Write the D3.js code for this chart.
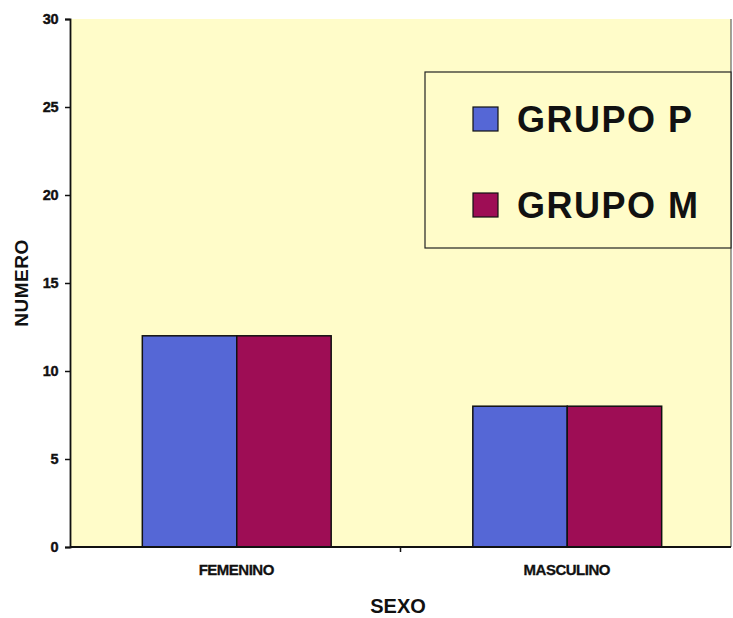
<!DOCTYPE html>
<html>
<head>
    <title>Sexo por grupo</title>
    <script src="https://d3js.org/d3.v7.min.js"></script>
    <style>
      body { margin: 0; background: #fff; }
    </style>
</head>
<body>
    <div id="chart"></div>
    <script>

const categories = ["FEMENINO", "MASCULINO"];
const groups = ["GRUPO P", "GRUPO M"];
const grupoP = [12, 8];
const grupoM = [12, 8];
const yTicks = [0, 5, 10, 15, 20, 25, 30];

const colors = ["#5567d6", "#9e0d55"];
const series = [grupoP, grupoM];

const width = 733, height = 618;
const margin = {top: 19, right: 2, bottom: 71, left: 70};
const font = "'Liberation Sans', Arial, sans-serif";

const svg = d3.create("svg")
    .attr("width", width)
    .attr("height", height)
    .attr("viewBox", [0, 0, width, height])
    .attr("style", `font-family: ${font}; font-weight: bold;`);

const x0 = d3.scaleBand()
    .domain(categories)
    .range([margin.left, width - margin.right])
    .paddingInner(0)
    .paddingOuter(0);

const x1 = d3.scaleBand()
    .domain(groups)
    .range([0, x0.bandwidth()])
    .paddingInner(0)
    .paddingOuter(0.75);

const y = d3.scaleLinear()
    .domain([0, 30])
    .range([height - margin.bottom, margin.top]);

// plot area
svg.append("rect")
    .attr("x", margin.left)
    .attr("y", margin.top)
    .attr("width", width - margin.right - margin.left)
    .attr("height", y(0) - margin.top)
    .attr("fill", "#fffcc9");

svg.append("line")
    .attr("x1", width - margin.right).attr("x2", width - margin.right)
    .attr("y1", margin.top).attr("y2", y(0))
    .attr("stroke", "#444").attr("stroke-width", 1);

// bars
const rows = categories.map((c, i) => ({cat: c, vals: groups.map((g, j) => ({g, j, v: series[j][i]}))}));

svg.append("g")
  .selectAll("g")
  .data(rows)
  .join("g")
    .attr("transform", d => `translate(${x0(d.cat) + 1.5},0)`)
  .selectAll("rect")
  .data(d => d.vals)
  .join("rect")
    .attr("x", d => x1(d.g))
    .attr("y", d => y(d.v))
    .attr("width", x1.bandwidth())
    .attr("height", d => y(0) - y(d.v))
    .attr("fill", d => colors[d.j])
    .attr("stroke", "#111")
    .attr("stroke-width", 1.5);

// y axis
const yAxis = svg.append("g")
    .attr("transform", `translate(${margin.left},0)`)
    .call(d3.axisLeft(y).tickValues(yTicks).tickSize(5).tickPadding(7));
yAxis.select(".domain").attr("stroke", "#111").attr("stroke-width", 1.8);
yAxis.selectAll(".tick line").attr("stroke", "#111").attr("stroke-width", 1.5);
yAxis.selectAll(".tick text")
    .attr("font-size", 14.5)
    .attr("font-weight", "bold")
    .attr("font-family", font)
    .attr("letter-spacing", "-0.5px")
    .attr("fill", "#111")
    .attr("stroke", "#111")
    .attr("stroke-width", 0.4);

// x axis
svg.append("line")
    .attr("x1", margin.left).attr("x2", width - margin.right)
    .attr("y1", y(0)).attr("y2", y(0))
    .attr("stroke", "#111").attr("stroke-width", 1.8);

svg.append("g")
  .selectAll("line")
  .data(categories.slice(1))
  .join("line")
    .attr("x1", d => x0(d)).attr("x2", d => x0(d))
    .attr("y1", y(0)).attr("y2", y(0) + 5)
    .attr("stroke", "#111").attr("stroke-width", 1.5);

svg.append("g")
  .selectAll("text")
  .data(categories)
  .join("text")
    .attr("x", d => x0(d) + x0.bandwidth() / 2 + 1)
    .attr("y", y(0) + 28)
    .attr("text-anchor", "middle")
    .attr("font-size", 15)
    .attr("letter-spacing", "-0.5px")
    .attr("fill", "#111")
    .attr("stroke", "#111")
    .attr("stroke-width", 0.3)
    .text(d => d);

// axis titles
svg.append("text")
    .attr("x", 398)
    .attr("y", 613)
    .attr("text-anchor", "middle")
    .attr("font-size", 20)
    .attr("fill", "#111")
    .text("SEXO");

svg.append("text")
    .attr("transform", `translate(28,${(margin.top + y(0)) / 2}) rotate(-90)`)
    .attr("text-anchor", "middle")
    .attr("font-size", 19)
    .attr("letter-spacing", "0.5px")
    .attr("fill", "#111")
    .text("NUMERO");

// legend
const legend = svg.append("g");
legend.append("rect")
    .attr("x", 425).attr("y", 72)
    .attr("width", 306).attr("height", 176)
    .attr("fill", "#fffcc9")
    .attr("stroke", "#222").attr("stroke-width", 1.2);

const item = legend.selectAll("g")
  .data(groups)
  .join("g")
    .attr("transform", (d, i) => `translate(473,${107 + i * 86})`);

item.append("rect")
    .attr("width", 25).attr("height", 24)
    .attr("fill", (d, i) => colors[i])
    .attr("stroke", "#111").attr("stroke-width", 1.2);

item.append("text")
    .attr("x", 44)
    .attr("y", 25)
    .attr("font-size", 36)
    .attr("letter-spacing", "1.5px")
    .attr("fill", "#111")
    .text(d => d);

document.getElementById('chart').appendChild(svg.node());

    </script>
</body>
</html>
